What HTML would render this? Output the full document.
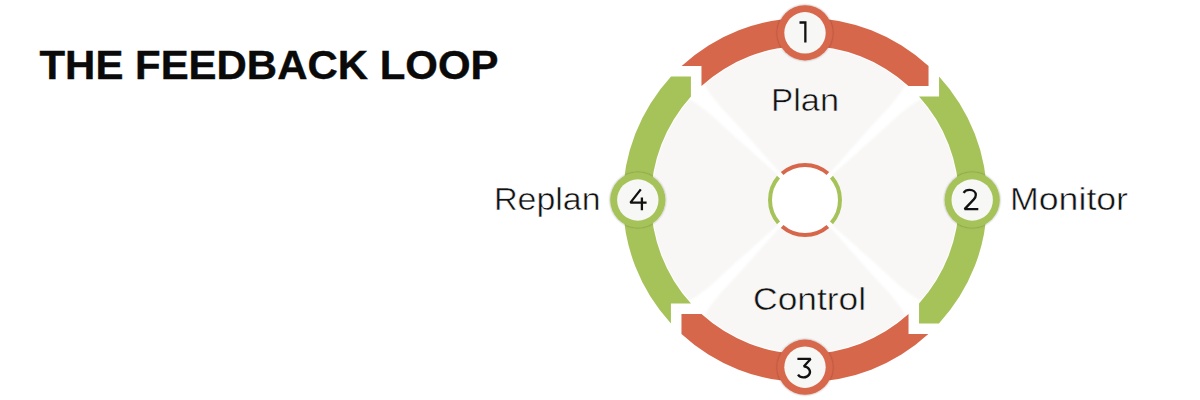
<!DOCTYPE html>
<html><head><meta charset="utf-8"><style>
html,body{margin:0;padding:0;background:#ffffff;width:1200px;height:400px;overflow:hidden;}
body{position:relative;font-family:"Liberation Sans",sans-serif;}
svg{position:absolute;left:0;top:0;}
.lbl{font-family:"Liberation Sans",sans-serif;font-size:30.5px;fill:#111;}
.lc{font-size:31.5px;}
.lg{stroke:#f8f7f6;stroke-width:0.5px;}
.lw{stroke:#ffffff;stroke-width:0.5px;}
.ttl{font-family:"Liberation Sans",sans-serif;font-size:40.5px;font-weight:bold;fill:#0a0a0a;stroke:#0a0a0a;stroke-width:0.4px;}
</style></head><body>
<svg width="1200" height="400" viewBox="0 0 1200 400">
<defs>
<filter id="sh" x="-30%" y="-30%" width="160%" height="160%">
<feGaussianBlur in="SourceAlpha" stdDeviation="1.3"/>
<feOffset dx="0" dy="0" result="b"/>
<feComponentTransfer><feFuncA type="linear" slope="0.4"/></feComponentTransfer>
<feMerge><feMergeNode/><feMergeNode in="SourceGraphic"/></feMerge>
</filter>
<filter id="bl" x="-10%" y="-10%" width="120%" height="120%"><feGaussianBlur stdDeviation="1.3"/></filter>
</defs>
<circle cx="805.0" cy="200.0" r="155.0" fill="#f8f7f6"/>
<g filter="url(#bl)"><polygon points="831.45,175.53 849.55,159.69 862.91,147.60 875.71,136.36 899.19,114.58 913.54,103.48 928.74,94.64 910.36,76.26 901.52,91.46 890.42,105.81 868.64,129.29 857.40,142.09 845.31,155.45 829.47,173.55" fill="#ffffff"/><polygon points="829.47,226.45 845.31,244.55 857.40,257.91 868.64,270.71 890.42,294.19 901.52,308.54 910.36,323.74 928.74,305.36 913.54,296.52 899.19,285.42 875.71,263.64 862.91,252.40 849.55,240.31 831.45,224.47" fill="#ffffff"/><polygon points="778.55,224.47 760.45,240.31 747.09,252.40 734.29,263.64 710.81,285.42 696.46,296.52 681.26,305.36 699.64,323.74 708.48,308.54 719.58,294.19 741.36,270.71 752.60,257.91 764.69,244.55 780.53,226.45" fill="#ffffff"/><polygon points="780.53,173.55 764.69,155.45 752.60,142.09 741.36,129.29 719.58,105.81 708.48,91.46 699.64,76.26 681.26,94.64 696.46,103.48 710.81,114.58 734.29,136.36 747.09,147.60 760.45,159.69 778.55,175.53" fill="#ffffff"/></g>
<circle cx="805.0" cy="200.0" r="37.0" fill="#ffffff"/>
<path d="M782.13,173.51 A35.0,35.0 0 0 1 827.87,173.51" fill="none" stroke="#d7674b" stroke-width="4"/><path d="M831.49,177.13 A35.0,35.0 0 0 1 831.49,222.87" fill="none" stroke="#a6c35a" stroke-width="4"/><path d="M827.87,226.49 A35.0,35.0 0 0 1 782.13,226.49" fill="none" stroke="#d7674b" stroke-width="4"/><path d="M778.51,222.87 A35.0,35.0 0 0 1 778.51,177.13" fill="none" stroke="#a6c35a" stroke-width="4"/>
<path d="M681.62,65.93 A182.2,182.2 0 0 1 928.53,66.07 L928.53,85.94 L908.48,85.94 A154.0,154.0 0 0 0 701.48,85.98 L701.48,65.93 Z" fill="#d7674b" stroke="#ffffff" stroke-width="2" paint-order="stroke"/><path d="M939.07,76.62 A182.2,182.2 0 0 1 938.93,323.53 L919.06,323.53 L919.06,303.48 A154.0,154.0 0 0 0 919.02,96.48 L939.07,96.48 Z" fill="#a6c35a" stroke="#ffffff" stroke-width="2" paint-order="stroke"/><path d="M928.38,334.07 A182.2,182.2 0 0 1 681.47,333.93 L681.47,314.06 L701.52,314.06 A154.0,154.0 0 0 0 908.52,314.02 L908.52,334.07 Z" fill="#d7674b" stroke="#ffffff" stroke-width="2" paint-order="stroke"/><path d="M670.93,323.38 A182.2,182.2 0 0 1 671.07,76.47 L690.94,76.47 L690.94,96.52 A154.0,154.0 0 0 0 690.98,303.52 L670.93,303.52 Z" fill="#a6c35a" stroke="#ffffff" stroke-width="2" paint-order="stroke"/>
<g filter="url(#sh)"><circle cx="805.00" cy="32.80" r="27.6" fill="#d7674b"/></g><circle cx="805.00" cy="32.80" r="20.7" fill="#f7f7f6"/><g filter="url(#sh)"><circle cx="972.20" cy="200.00" r="27.6" fill="#a6c35a"/></g><circle cx="972.20" cy="200.00" r="20.7" fill="#f7f7f6"/><g filter="url(#sh)"><circle cx="805.00" cy="367.20" r="27.6" fill="#d7674b"/></g><circle cx="805.00" cy="367.20" r="20.7" fill="#f7f7f6"/><g filter="url(#sh)"><circle cx="637.80" cy="200.00" r="27.6" fill="#a6c35a"/></g><circle cx="637.80" cy="200.00" r="20.7" fill="#f7f7f6"/>
<g fill="none" stroke="#111" stroke-width="2.3" stroke-linejoin="miter" stroke-linecap="butt">
<path d="M799.5,22.5 H805.35 V42.4"/>
<path stroke-linejoin="bevel" d="M963.6,192.8 C964.9,190.7 967.2,189.9 969.6,189.9 C973.3,189.9 975.8,192.0 975.8,195.0 C975.8,196.6 975.2,197.9 973.8,199.4 L964.6,209.1 H978.3"/>
<path stroke-linejoin="bevel" d="M797.4,358.9 H810.6 L803.8,366.4 A6.4,5.5 0 1 1 798.0,374.6"/>
<path stroke-linejoin="bevel" d="M640.8,189.4 L630.4,202.6 H646.6 M641.9,197.6 V210.2"/>
</g>
<text x="39.5" y="78.75" class="ttl" textLength="459" lengthAdjust="spacingAndGlyphs">THE FEEDBACK LOOP</text>
<text x="771" y="111" class="lbl lg" textLength="68" lengthAdjust="spacingAndGlyphs">P<tspan class="lc">lan</tspan></text>
<text x="753" y="309.5" class="lbl lg" textLength="113" lengthAdjust="spacingAndGlyphs">C<tspan class="lc">ontrol</tspan></text>
<text x="493.9" y="209.9" class="lbl lw" textLength="106.6" lengthAdjust="spacingAndGlyphs">R<tspan class="lc">eplan</tspan></text>
<text x="1010" y="209.9" class="lbl lw" textLength="118" lengthAdjust="spacingAndGlyphs">M<tspan class="lc">onitor</tspan></text>
</svg>
</body></html>
